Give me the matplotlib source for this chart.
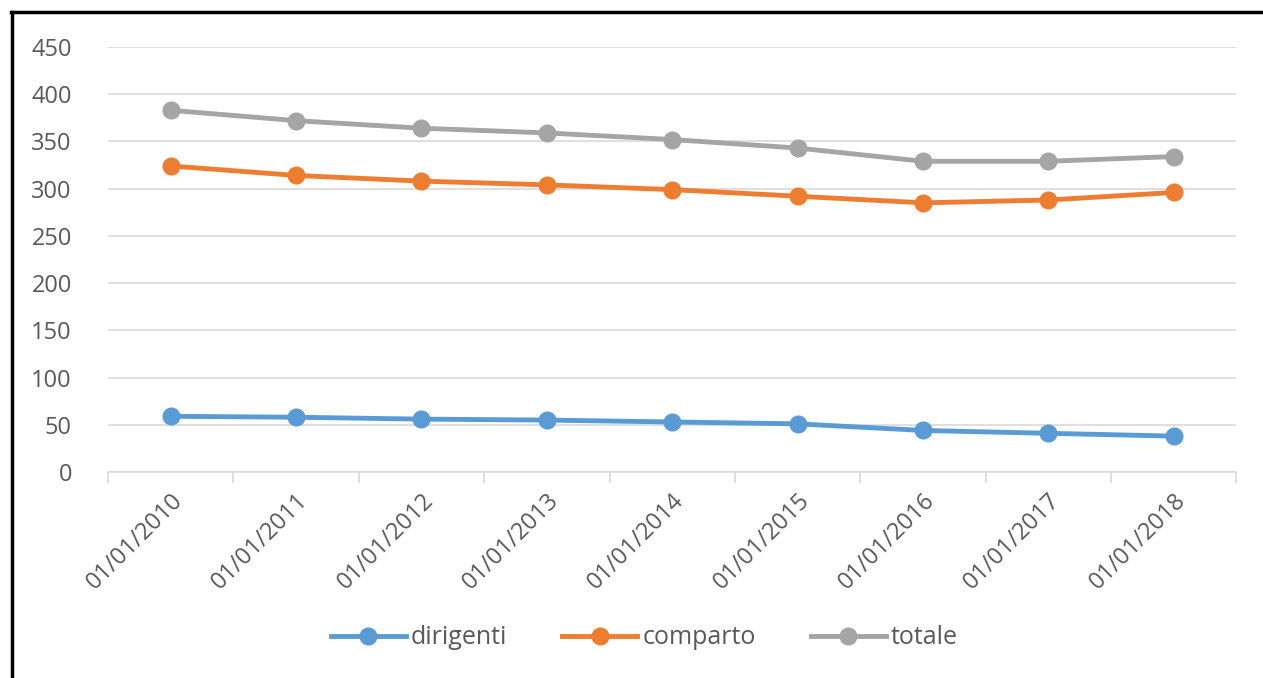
import matplotlib.pyplot as plt
from matplotlib.lines import Line2D

date = ["01/01/2010", "01/01/2011", "01/01/2012", "01/01/2013", "01/01/2014",
        "01/01/2015", "01/01/2016", "01/01/2017", "01/01/2018"]
dirigenti = [59, 58, 56, 55, 53, 51, 44, 41, 38]
comparto = [324, 314, 308, 304, 299, 292, 285, 288, 296]
totale = [383, 372, 364, 359, 352, 343, 329, 329, 334]

plt.rcParams['font.family'] = ['Open Sans', 'DejaVu Sans']

fig = plt.figure(figsize=(12.63, 6.78), dpi=100)
ax = fig.add_axes([0.0855, 0.3038, 0.8935, 0.6269])

x = list(range(len(date)))
ax.plot(x, dirigenti, color="#5B9BD5", lw=3.5, marker="o", ms=12, label="dirigenti")
ax.plot(x, comparto, color="#ED7D31", lw=3.5, marker="o", ms=12, label="comparto")
ax.plot(x, totale, color="#A5A5A5", lw=3.5, marker="o", ms=12, label="totale")

ax.set_xlim(-0.5, len(date) - 0.5)
ax.set_ylim(0, 450)
ax.set_yticks(range(0, 451, 50))
ax.grid(axis="y", color="#D9D9D9", lw=1.2)
ax.set_axisbelow(True)

for s in ["top", "right", "left"]:
    ax.spines[s].set_visible(False)
ax.spines["bottom"].set_color("#D9D9D9")
ax.spines["bottom"].set_linewidth(1.2)

ax.set_xticks(x)
ax.set_xticklabels(date, rotation=45, ha="right", rotation_mode="anchor")
ax.set_xticks([i - 0.5 for i in range(len(date) + 1)], minor=True)
ax.tick_params(axis="x", which="major", length=0, pad=12, labelsize=17, labelcolor="#595959")
ax.tick_params(axis="x", which="minor", length=8, color="#D9D9D9", width=1.2)
ax.tick_params(axis="y", length=0, pad=26, labelsize=17, labelcolor="#595959")

ax.legend(loc="center", bbox_to_anchor=(0.51, 0.059), bbox_transform=fig.transFigure,
          ncol=3, frameon=False, fontsize=18, labelcolor="#595959",
          handlelength=3, columnspacing=2.2, handletextpad=0.2)

# black frame round the picture (left and top edges)
fig.add_artist(Line2D([0.0095, 0.0095], [0, 0.983], color="black", lw=2.5, transform=fig.transFigure))
fig.add_artist(Line2D([0.0085, 1.0], [0.983, 0.983], color="black", lw=2.5, transform=fig.transFigure))

fig.savefig("out.png", dpi=100)
